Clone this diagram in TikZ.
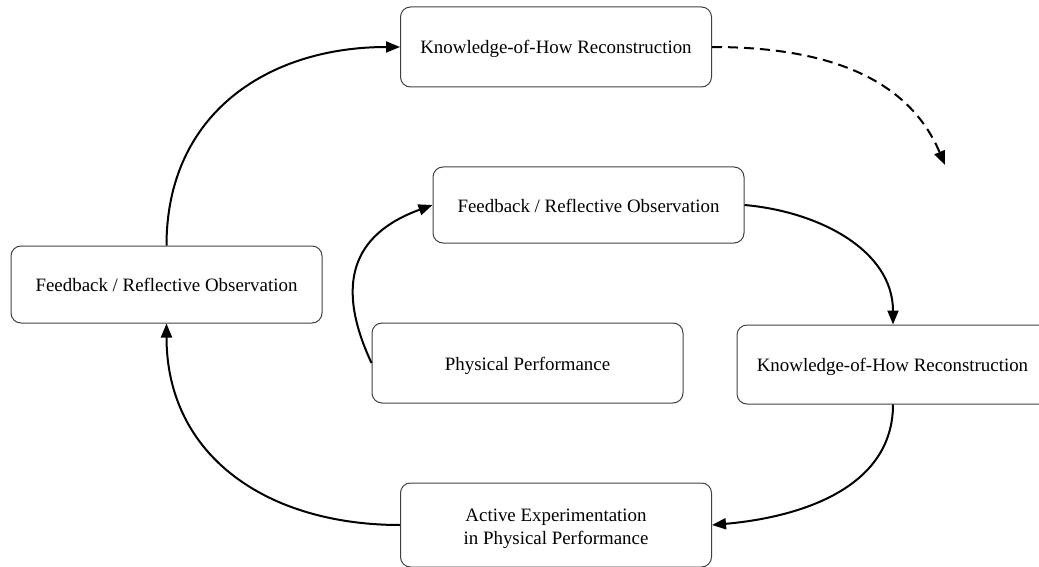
\documentclass[tikz,border=0pt]{standalone}
\usepackage{fontspec}
\setmainfont{Liberation Serif}
\usetikzlibrary{arrows.meta}
\begin{document}
\begin{tikzpicture}[x=1pt,y=1pt,
  stage/.style={draw=black!75, line width=1pt, rounded corners=10pt,
    minimum width=311pt, inner sep=0pt, align=center,
    font=\fontsize{18.9pt}{23pt}\selectfont},
  oneline/.style={text height=16pt, text depth=2pt},
  flow/.style={line width=2pt, -{Triangle[length=14pt,width=11pt]}},
  ]
\useasboundingbox (0,0) rectangle (1039,-567);
\clip (0,0) rectangle (1039,-567);

% stages of the cycle
\node[stage, oneline, minimum height=80pt] (topkh)   at (556,-47)      {Knowledge-of-How Reconstruction};
\node[stage, oneline, minimum height=76pt] (midfb)   at (588.5,-205)   {Feedback / Reflective Observation};
\node[stage, oneline, minimum height=77pt] (leftfb)  at (166.5,-284.5) {Feedback / Reflective Observation};
\node[stage, oneline, minimum height=80pt] (perf)    at (527.5,-363)   {Physical Performance};
\node[stage, oneline, minimum height=79pt, minimum width=330pt] (rightkh) at (902,-364.5)
  {\hspace*{-19pt}Knowledge-of-How Reconstruction};
\node[stage, minimum height=84pt] (exper) at (556,-525)
  {\rule{0pt}{20.5pt}Active Experimentation\\in Physical Performance};
\coordinate (next) at (945,-165);

% connectors
\draw[flow] (leftfb.north) to[out=90,in=180,looseness=1.1] (topkh.west);
\draw[flow, dash pattern=on 10pt off 6pt] (topkh.east) to[out=0,in=113] (next);
\draw[flow] (perf.west) to[out=115,in=200,looseness=1.3] (midfb.west);
\draw[flow] (midfb.east) to[out=-5,in=90] ([xshift=-9pt]rightkh.north);
\draw[flow] ([xshift=-9pt]rightkh.south) to[out=-90,in=5] (exper.east);
\draw[flow] (exper.west) to[out=180,in=-90,looseness=1.1] (leftfb.south);
\end{tikzpicture}
\end{document}
